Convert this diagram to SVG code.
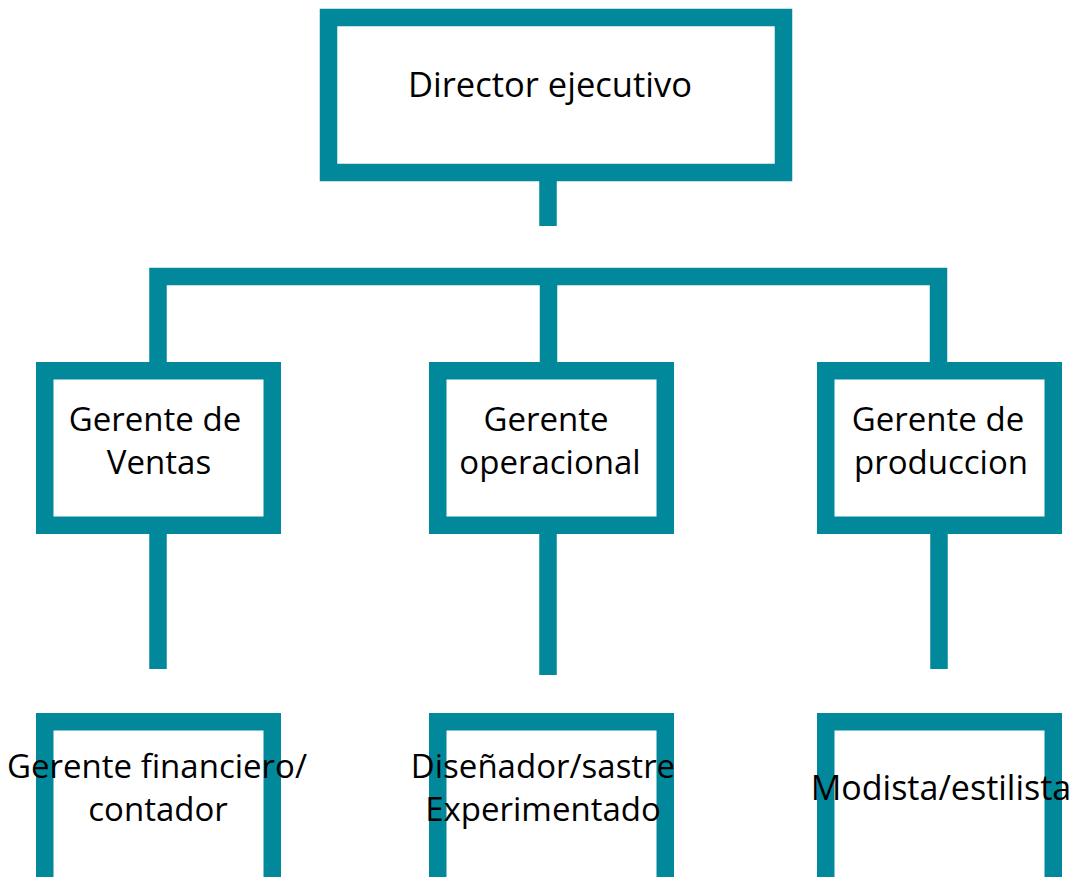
<svg xmlns="http://www.w3.org/2000/svg" width="1075" height="877" viewBox="0 0 1075 877">
<style>
.box{fill:#ffffff;stroke:#02889b;stroke-width:17.5}
.c{fill:none;stroke:#02889b;stroke-width:17.5;stroke-linejoin:miter;stroke-linecap:butt}
text{font-family:"Open Sans","Noto Sans",sans-serif;font-size:33px;fill:#000;text-anchor:middle}
</style>
<rect width="1075" height="877" fill="#ffffff"/>
<g id="connectors">
<path class="c" d="M548,181 V226"/>
<path class="c" d="M158,363 V276.5 H938.5 V363"/>
<path class="c" d="M548.5,276.5 V362"/>
<path class="c" d="M158,534 V669"/>
<path class="c" d="M548,534 V675"/>
<path class="c" d="M939,534 V669"/>
</g>
<g id="director">
<rect class="box" x="328.5" y="17.5" width="455" height="155"/>
<text x="550" y="97" style="font-size:34.5px">Director ejecutivo</text>
</g>
<g id="ventas">
<rect class="box" x="44.75" y="370.75" width="227.5" height="154.5"/>
<text x="155" y="431">Gerente de</text>
<text x="159" y="474">Ventas</text>
</g>
<g id="operacional">
<rect class="box" x="437.75" y="370.75" width="227.5" height="154.5"/>
<text x="546" y="431">Gerente</text>
<text x="550" y="474">operacional</text>
</g>
<g id="produccion">
<rect class="box" x="825.75" y="370.75" width="227.5" height="154.5"/>
<text x="938" y="431">Gerente de</text>
<text x="941" y="474">produccion</text>
</g>
<g id="financiero">
<rect class="box" x="44.75" y="721.75" width="227.5" height="240"/>
<text x="157" y="778">Gerente financiero/</text>
<text x="158" y="821">contador</text>
</g>
<g id="disenador">
<rect class="box" x="437.75" y="721.75" width="227.5" height="240"/>
<text x="543" y="778">Diseñador/sastre</text>
<text x="543" y="821">Experimentado</text>
</g>
<g id="modista">
<rect class="box" x="825.75" y="721.75" width="227.5" height="240"/>
<text x="941" y="800" style="font-size:34px">Modista/estilista</text>
</g>
</svg>
